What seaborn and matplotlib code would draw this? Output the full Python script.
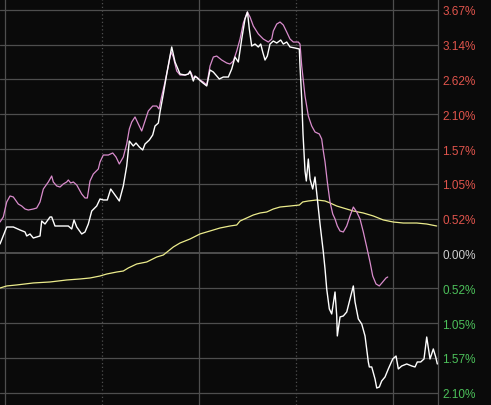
import matplotlib
matplotlib.use("Agg")
import matplotlib.pyplot as plt
import seaborn as sns
import numpy as np
import pandas as pd

# minutes from the first grid line, percent change
white_t = [-1.55, -0.71, 0.53, 2.57, 4.64, 6.19, 6.71, 7.73, 8.75, 9.80, 10.83, 11.35, 12.37, 13.92, 14.44,
           15.46, 16.49, 18.03, 19.58, 20.63, 21.34, 22.18, 23.72, 24.74, 25.76, 26.82, 28.36, 29.38, 30.40,
           31.64, 32.69, 34.02, 35.35, 36.59, 37.64, 38.45, 39.68, 40.52, 41.54, 42.59, 43.30, 44.63, 45.68,
           46.40, 47.42, 47.94, 48.96, 50.01, 51.56, 52.58, 54.13, 55.67, 56.69, 57.22, 58.24, 58.77, 59.79,
           60.84, 62.39, 63.41, 64.43, 66.28, 67.52, 69.07, 70.12, 71.14, 72.16, 73.21, 74.23, 75.00, 75.56,
           76.30, 77.33, 78.35, 79.09, 79.71, 80.42, 81.13, 81.96, 82.98, 84.04, 85.27, 86.08, 87.13, 88.15,
           89.70, 91.03, 91.24, 91.77, 92.17, 92.79, 93.19, 93.81, 94.34, 95.17, 95.88, 96.59, 97.43, 98.45,
           98.98, 99.50, 100.31, 101.05, 102.07, 102.60, 102.78, 103.62, 104.64, 105.69, 106.71, 107.73,
           108.26, 109.28, 110.33, 111.35, 112.37, 112.68, 113.42, 114.44, 114.97, 115.77, 116.51, 117.53,
           118.55, 119.92, 120.94, 121.65, 122.70, 124.25, 125.79, 126.81, 127.52, 128.57, 129.59, 130.43,
           131.45, 132.47, 133.21, 133.71]
white_v = [0.143, 0.248, 0.399, 0.399, 0.354, 0.324, 0.264, 0.294, 0.233, 0.248, 0.264, 0.489, 0.444, 0.550,
           0.550, 0.414, 0.414, 0.414, 0.414, 0.369, 0.505, 0.399, 0.294, 0.324, 0.444, 0.640, 0.715, 0.821,
           0.806, 0.806, 0.971, 0.881, 0.791, 1.017, 1.318, 1.694, 1.619, 1.664, 1.604, 1.559, 1.649, 1.709,
           1.785, 1.920, 1.965, 2.131, 2.402, 2.703, 3.110, 2.884, 2.703, 2.688, 2.703, 2.748, 2.598, 2.673,
           2.628, 2.583, 2.523, 2.764, 2.733, 2.628, 2.658, 2.658, 2.779, 2.959, 2.884, 3.230, 3.532, 3.637,
           3.381, 3.125, 3.155, 3.110, 3.155, 3.035, 2.914, 2.974, 3.155, 3.200, 3.170, 3.215, 3.155, 3.185,
           3.110, 3.095, 3.080, 2.824, 2.327, 1.800, 1.242, 1.092, 1.423, 1.122, 0.971, 1.152, 0.821, 0.444,
           0.023, -0.233, -0.535, -0.836, -0.911, -0.580, -0.941, -1.242, -0.956, -0.941, -0.881, -0.685,
           -0.489, -0.730, -0.986, -1.062, -1.242, -1.634, -1.709, -1.709, -1.890, -2.026, -2.011, -1.920,
           -1.860, -1.739, -1.589, -1.544, -1.739, -1.694, -1.664, -1.694, -1.709, -1.634, -1.634, -1.589,
           -1.258, -1.589, -1.438, -1.559, -1.664]

pink_t = [-1.55, -0.53, 0.53, 1.55, 2.57, 4.11, 5.17, 6.19, 7.21, 8.75, 9.80, 10.83, 11.85, 13.39, 14.44,
          14.94, 15.99, 17.01, 18.03, 19.08, 19.58, 20.32, 21.13, 22.18, 23.72, 24.74, 25.46, 26.29, 27.31,
          28.86, 29.38, 30.40, 31.95, 33.31, 34.33, 35.35, 36.59, 37.64, 38.45, 39.19, 40.21, 41.23, 42.28,
          43.30, 44.32, 45.68, 46.92, 47.63, 48.47, 49.49, 50.51, 51.34, 52.06, 53.11, 54.13, 55.67, 56.69,
          57.44, 58.24, 59.29, 60.31, 61.33, 62.39, 63.41, 64.43, 65.48, 67.02, 68.57, 69.59, 70.61, 71.67,
          72.69, 73.71, 74.94, 75.78, 76.80, 78.35, 79.89, 81.44, 82.49, 82.98, 84.04, 85.06, 86.08, 87.13,
          88.15, 89.17, 90.72, 91.24, 91.77, 92.79, 93.81, 94.86, 95.88, 97.21, 97.95, 98.45, 98.98, 99.69,
          100.52, 101.36, 102.07, 102.78, 103.62, 104.64, 105.69, 106.71, 107.73, 108.78, 109.80, 110.82,
          111.87, 112.89, 113.73, 114.75, 115.77, 116.82, 117.84, 118.37]
pink_v = [0.474, 0.550, 0.776, 0.866, 0.851, 0.745, 0.715, 0.670, 0.655, 0.670, 0.685, 0.776, 0.971, 1.077,
          1.167, 1.077, 1.017, 1.001, 1.047, 1.077, 1.107, 1.062, 1.077, 1.032, 0.896, 0.836, 0.836, 1.092,
          1.197, 1.273, 1.378, 1.483, 1.483, 1.514, 1.453, 1.348, 1.453, 1.649, 1.875, 1.980, 2.056, 1.950,
          1.845, 1.995, 2.146, 2.221, 2.221, 2.176, 2.372, 2.583, 2.824, 3.035, 2.959, 2.748, 2.688, 2.688,
          2.703, 2.733, 2.643, 2.658, 2.613, 2.583, 2.538, 2.824, 2.959, 2.974, 2.914, 2.869, 2.854, 2.899,
          3.050, 3.230, 3.471, 3.637, 3.562, 3.426, 3.306, 3.230, 3.185, 3.230, 3.351, 3.456, 3.486, 3.441,
          3.336, 3.230, 3.185, 3.185, 3.155, 2.824, 2.372, 2.071, 1.920, 1.830, 1.800, 1.724, 1.544, 1.378,
          1.077, 0.776, 0.595, 0.520, 0.414, 0.339, 0.324, 0.414, 0.565, 0.700, 0.625, 0.520, 0.324, 0.098,
          -0.128, -0.339, -0.459, -0.489, -0.429, -0.369, -0.354]

yellow_t = [-1.55, 0.53, 3.62, 8.75, 13.92, 19.08, 23.20, 26.29, 29.38, 31.46, 34.55, 36.59, 38.14, 40.73,
            43.83, 46.92, 48.96, 52.06, 54.13, 57.22, 60.31, 63.41, 66.50, 69.59, 71.67, 72.69, 74.76, 76.80,
            78.87, 80.94, 82.98, 85.06, 88.15, 91.03, 92.08, 93.81, 96.41, 98.98, 100.52, 102.60, 104.64,
            107.73, 110.82, 113.91, 117.00, 120.10, 123.19, 127.34, 130.43, 133.52]
yellow_v = [-0.520, -0.489, -0.474, -0.444, -0.429, -0.399, -0.384, -0.369, -0.339, -0.309, -0.279, -0.264,
            -0.218, -0.158, -0.128, -0.053, -0.023, 0.098, 0.158, 0.218, 0.294, 0.339, 0.384, 0.414, 0.429,
            0.489, 0.535, 0.580, 0.610, 0.625, 0.670, 0.700, 0.715, 0.730, 0.776, 0.791, 0.806, 0.791, 0.761,
            0.715, 0.685, 0.640, 0.610, 0.565, 0.505, 0.474, 0.459, 0.459, 0.444, 0.414]

tick_step = 0.5243
tick_k = list(range(-4, 8))
tick_labels = ["2.10%", "1.57%", "1.05%", "0.52%", "0.00%", "0.52%", "1.05%", "1.57%", "2.10%",
               "2.62%", "3.14%", "3.67%"]
vgrid_solid = [0, 60, 120]
vgrid_dotted = [30, 90]

sns.set_theme(style="dark")
plt.rcParams['font.family'] = ['Liberation Sans', 'DejaVu Sans']

BG = "#0a0a0a"
GRID = "#4e4e4e"
fig = plt.figure(figsize=(4.91, 4.06), dpi=100, facecolor=BG)
ax = fig.add_axes([0, 0, 438 / 491, 1])
ax.set_facecolor(BG)

ticks = [k * tick_step for k in tick_k]
for k, yv in zip(tick_k, ticks):
    ax.axhline(yv, color=GRID, lw=1.4 if k == 0 else 0.9, zorder=1)
for xv in vgrid_solid:
    ax.axvline(xv, color=GRID, lw=0.9, zorder=1)
for xv in vgrid_dotted:
    ax.axvline(xv, color=GRID, lw=0.9, ls=(0, (1, 2)), zorder=1)

sns.lineplot(x=yellow_t, y=yellow_v, ax=ax, color="#ecec8c", lw=0.9, sort=False, estimator=None, zorder=3)
sns.lineplot(x=pink_t, y=pink_v, ax=ax, color="#d98ccc", lw=0.9, sort=False, estimator=None, zorder=4)
sns.lineplot(x=white_t, y=white_v, ax=ax, color="#ffffff", lw=1.0, sort=False, estimator=None, zorder=5)

ax.set_xlim(-1.55, 133.92)
ax.set_ylim(-2.282, 3.833)
ax.set_xticks([])
ax.yaxis.tick_right()
ax.set_yticks(ticks)
ax.set_yticklabels(tick_labels)
ax.tick_params(axis="y", length=0, pad=3, labelsize=8.5)
for lab, k in zip(ax.get_yticklabels(), tick_k):
    if k > 0:
        lab.set_color("#e0544c")
    elif k < 0:
        lab.set_color("#4cc05a")
    else:
        lab.set_color("#cfcfcf")
ax.set_xlabel("")
ax.set_ylabel("")
ax.grid(False)
for side in ["top", "left", "bottom"]:
    ax.spines[side].set_visible(False)
ax.spines["right"].set_color(GRID)
ax.spines["right"].set_linewidth(0.9)

fig.savefig("out.png", dpi=100, facecolor=BG)
